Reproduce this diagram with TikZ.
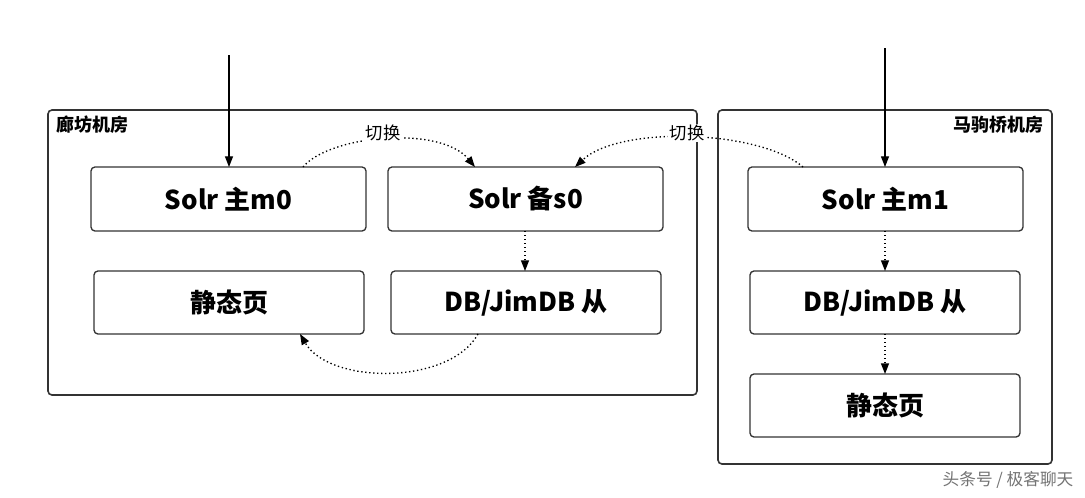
\documentclass[tikz,border=0pt]{standalone}
\usepackage{fontspec}
\setmainfont{Noto Sans CJK SC}
\usetikzlibrary{arrows.meta}
\begin{document}
\begin{tikzpicture}[
    x=0.75pt, y=-0.75pt,
    roomstyle/.style = {draw=black!80, line width=1.2pt, rounded corners=3pt},
    boxstyle/.style  = {draw=black!80, line width=1pt, rounded corners=3pt,
                        font=\bfseries\fontsize{19.5}{22}\selectfont},
    arr/.style       = {line width=0.9pt, -{Triangle[length=8pt,width=6pt]}},
    darr/.style      = {line width=1pt, dotted, -{Triangle[length=8pt,width=6pt]}},
    lbl/.style       = {fill=white, inner sep=1pt, font=\fontsize{13}{15}\selectfont}
]
\useasboundingbox (0,0) rectangle (1085,497);
% rooms
\draw[roomstyle] (48,110) rectangle (697,395);
\draw[roomstyle] (718,110) rectangle (1052,464);
\node (lf) [anchor=north west, font=\bfseries\fontsize{13.5}{15}\selectfont] at (52,111) {廊坊机房};
\node (mj) [anchor=north east, font=\bfseries\fontsize{13.5}{15}\selectfont] at (1048,111) {马驹桥机房};
% boxes
\draw[boxstyle] (91,167) rectangle node (m0) {Solr 主m0} (366,231);
\draw[boxstyle] (388,167) rectangle node (s0) {Solr 备s0} (663,231);
\draw[boxstyle] (94,271) rectangle node (jt0) {静态页} (364,334);
\draw[boxstyle] (391,271) rectangle node (db0) {DB/JimDB 从} (661,334);
\draw[boxstyle] (748,167) rectangle node (m1) {Solr 主m1} (1023,231);
\draw[boxstyle] (750,271) rectangle node (db1) {DB/JimDB 从} (1020,334);
\draw[boxstyle] (750,374) rectangle node (jt1) {静态页} (1020,437);
% inputs
\coordinate (in0) at (229,55);
\coordinate (in1) at (885,48);
\draw[arr] (in0) -- (229,167);
\draw[arr] (in1) -- (885,167);
% switching
\draw[darr] (303,167) .. controls (330,135) and (440,125) .. (475,167);
\node[lbl] (sw0) at (383,133) {切换};
\draw[darr] (803,167) .. controls (760,130) and (620,125) .. (575,167);
\node[lbl] (sw1) at (687,133) {切换};
\draw[darr] (525,231) -- (525,271);
\draw[darr] (478,334) .. controls (450,385) and (330,385) .. (300,334);
\draw[darr] (885,231) -- (885,271);
\draw[darr] (885,334) -- (885,374);
% watermark
\node (wm) [text=black!55, font=\fontsize{12.5}{14}\selectfont] at (1008,480) {头条号 / 极客聊天};
\end{tikzpicture}
\end{document}
